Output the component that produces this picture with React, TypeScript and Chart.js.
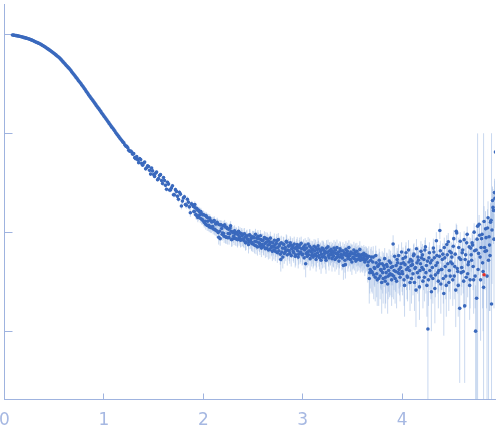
import { useEffect, useRef } from "react";
import Chart from "chart.js/auto";

// scattering vector q (nm^-1), first frame
const qValues = [
  0.08, 0.1, 0.12, 0.14, 0.16, 0.18, 0.2, 0.22, 0.24, 0.26,
  0.28, 0.3, 0.32, 0.34, 0.36, 0.38, 0.4, 0.42, 0.44, 0.46,
  0.48, 0.5, 0.52, 0.54, 0.56, 0.58, 0.6, 0.62, 0.64, 0.66,
  0.68, 0.7, 0.72, 0.74, 0.76, 0.78, 0.8, 0.82, 0.84, 0.86,
  0.88, 0.9, 0.92, 0.94, 0.96, 0.98, 1.0, 1.02, 1.04, 1.06,
  1.08, 1.1, 1.12, 1.14, 1.16, 1.18, 1.2, 1.22, 1.24, 1.26,
  1.28, 1.3, 1.32, 1.34, 1.36, 1.38, 1.4, 1.42, 1.44, 1.46,
  1.48, 1.5, 1.52, 1.54, 1.56, 1.58, 1.6, 1.62, 1.64, 1.66,
  1.68, 1.7, 1.72, 1.74, 1.76, 1.78, 1.8, 1.82, 1.84, 1.86, 1.88,
  1.9, 1.91, 1.92, 1.93, 1.94, 1.95, 1.96, 1.97, 1.98, 1.99,
  2.0, 2.01, 2.02, 2.03, 2.04, 2.05, 2.06, 2.07, 2.08, 2.09,
  2.1, 2.11, 2.12, 2.13, 2.14, 2.15, 2.16, 2.17, 2.18, 2.19,
  2.2, 2.21, 2.22, 2.23, 2.24, 2.25, 2.26, 2.27, 2.28, 2.29,
  2.3, 2.31, 2.32, 2.33, 2.34, 2.35, 2.36, 2.37, 2.38, 2.39,
  2.4, 2.41, 2.42, 2.43, 2.44, 2.45, 2.46, 2.47, 2.48, 2.49,
  2.5, 2.51, 2.52, 2.53, 2.54, 2.55, 2.56, 2.57, 2.58, 2.59,
  2.6, 2.61, 2.62, 2.63, 2.64, 2.65, 2.66, 2.67, 2.68, 2.69,
  2.7, 2.71, 2.72, 2.73, 2.74, 2.75, 2.76, 2.77, 2.78, 2.79,
  2.8, 2.81, 2.82, 2.83, 2.84, 2.85, 2.86, 2.87, 2.88, 2.89,
  2.9, 2.91, 2.92, 2.93, 2.94, 2.95, 2.96, 2.97, 2.98, 2.99,
  3.0, 3.01, 3.02, 3.03, 3.04, 3.05, 3.06, 3.07, 3.08, 3.09,
  3.1, 3.11, 3.12, 3.13, 3.14, 3.15, 3.16, 3.17, 3.18, 3.19,
  3.2, 3.21, 3.22, 3.23, 3.24, 3.25, 3.26, 3.27, 3.28, 3.29,
  3.3, 3.31, 3.32, 3.33, 3.34, 3.35, 3.36, 3.37, 3.38, 3.39,
  3.4, 3.41, 3.42, 3.43, 3.44, 3.45, 3.46, 3.47, 3.48, 3.49,
  3.5, 3.51, 3.52, 3.53, 3.54, 3.55, 3.56, 3.57, 3.58, 3.59,
  3.6, 3.61, 3.62, 3.63, 3.64, 3.65, 3.66, 3.67, 3.68, 3.69,
  3.7, 3.71, 3.72, 3.73, 3.74, 3.75, 3.76, 3.77, 3.78, 3.79,
  3.8, 3.81, 3.82, 3.83, 3.84, 3.85, 3.86, 3.87, 3.88, 3.89,
  3.9, 3.91, 3.92, 3.93, 3.94, 3.95, 3.96, 3.97, 3.98, 3.99,
  4.0, 4.01, 4.02, 4.03, 4.04, 4.05, 4.06, 4.07, 4.08, 4.09,
  4.1, 4.11, 4.12, 4.13, 4.14, 4.15, 4.16, 4.17, 4.18, 4.19,
  4.2, 4.21, 4.22, 4.23, 4.24, 4.25, 4.26, 4.27, 4.28, 4.29,
  4.3, 4.31, 4.32, 4.33, 4.34, 4.35, 4.36, 4.37, 4.38, 4.39,
  4.4, 4.41, 4.42, 4.43, 4.44, 4.45, 4.46, 4.47, 4.48, 4.49,
  4.5, 4.51, 4.52, 4.53, 4.54, 4.55, 4.56, 4.57, 4.58, 4.59,
  4.6, 4.61, 4.62, 4.63, 4.64, 4.65, 4.66, 4.67, 4.68, 4.69,
  4.7, 4.71, 4.72, 4.73, 4.74, 4.75, 4.76, 4.77, 4.78, 4.79,
  4.8, 4.81, 4.82, 4.83, 4.84, 4.85, 4.86, 4.87, 4.88, 4.89,
  4.9, 4.91, 4.92, 4.93, 4.94,
];

// intensity, arbitrary units (axis is unlabelled)
const intensity = [
  982, 975, 966, 957, 946, 935, 923, 912, 899, 885,
  867, 849, 830, 813, 796, 774, 752, 729, 706, 684,
  661, 637, 614, 592, 567, 538, 512, 486, 462, 439,
  413, 389, 366, 345, 325, 305, 286, 267, 250, 234,
  220, 206, 193, 181, 170, 159, 149, 140, 131, 123,
  115, 108, 101, 95.1, 89.3, 84.1, 80.1, 74.0, 71.3, 65.7,
  64.3, 62.1, 55.3, 54.0, 55.3, 49.5, 49.7, 43.6, 46.9, 42.1,
  44.5, 38.2, 39.4, 33.9, 37.3, 33.2, 35.6, 29.7, 31.9, 26.7,
  28.0, 23.9, 26.9, 23.0, 25.3, 18.4, 22.2, 19.0, 21.5, 18.0, 19.3,
  18.2, 16.2, 17.6, 14.8, 16.8, 14.5, 16.2, 13.8, 15.5, 13.3,
  15.1, 12.5, 12.9, 14.6, 11.7, 13.9, 11.3, 13.2, 11.1, 12.9,
  10.8, 13.1, 10.5, 12.2, 12.6, 9.9, 11.9, 8.6, 11.8, 9.5,
  11.6, 9.1, 11.3, 8.9, 10.9, 9.7, 8.8, 11.0, 10.2, 8.5,
  10.1, 8.7, 9.6, 9.9, 8.5, 9.4, 8.6, 9.8, 8.4, 9.2,
  9.5, 8.2, 8.9, 7.9, 9.2, 8.4, 8.0, 9.3, 8.6, 7.7,
  7.6, 8.9, 8.1, 7.3, 8.7, 9.1, 7.8, 7.2, 8.4, 7.5,
  8.3, 7.1, 7.7, 8.6, 6.9, 7.4, 8.1, 6.7, 7.9, 7.2,
  7.8, 6.6, 7.4, 6.9, 8.2, 7.0, 6.5, 7.6, 5.3, 6.3,
  5.6, 7.5, 6.8, 6.4, 7.9, 6.6, 7.2, 6.1, 7.4, 6.8,
  7.3, 6.2, 6.9, 5.9, 7.1, 6.5, 6.0, 7.4, 6.3, 6.8,
  6.0, 7.1, 6.6, 4.8, 6.9, 6.3, 5.9, 7.2, 6.4, 5.8,
  6.7, 5.8, 6.5, 7.0, 5.7, 6.2, 6.8, 5.5, 6.4, 6.0,
  5.6, 6.6, 6.1, 5.5, 6.9, 6.3, 5.8, 6.5, 5.9, 6.2,
  6.4, 5.7, 6.2, 6.6, 5.5, 6.0, 6.3, 5.6, 6.5, 5.9,
  5.5, 4.6, 6.2, 4.7, 5.8, 6.4, 5.6, 6.0, 5.3, 6.1,
  6.1, 5.6, 5.4, 6.3, 5.8, 5.3, 6.0, 5.7, 5.2, 5.9,
  5.9, 5.4, 5.7, 5.2, 5.8, 5.5, 5.0, 3.4, 4.2, 5.6,
  3.9, 5.6, 4.4, 3.5, 4.9, 3.3, 4.6, 5.2, 3.6, 4.1,
  4.8, 3.4, 4.3, 3.2, 3.9, 4.5, 3.6, 5.1, 3.8, 4.4,
  3.7, 7.6, 4.1, 3.4, 4.6, 5.3, 3.9, 4.2, 3.5, 4.8,
  4.0, 5.4, 3.3, 4.7, 6.2, 3.6, 4.4, 5.0, 3.1, 4.6,
  5.1, 3.8, 6.0, 4.3, 2.6, 4.9, 5.6, 3.5, 4.1, 6.4,
  4.4, 3.2, 5.3, 6.6, 3.9, 2.9, 1.05, 5.5, 4.1, 3.6,
  5.2, 3.4, 6.3, 2.7, 4.6, 5.8, 3.9, 4.1, 10.4, 3.0,
  4.2, 6.0, 2.4, 5.5, 3.6, 7.5, 4.8, 3.1, 6.4, 5.0,
  5.6, 3.3, 8.6, 4.5, 2.6, 9.8, 4.0, 7.0, 1.7, 5.3,
  4.4, 6.6, 3.2, 1.8, 5.9, 7.8, 3.8, 5.0, 2.9, 6.9,
  5.2, 7.4, 3.3, 6.5, 1.0, 2.15, 11.5, 6.1, 9.3, 3.3,
  8.6, 4.9, 2.77, 7.0, 10.8, 6.5, 11.0, 5.2, 7.4, 12.6,
  1.88, 20.9, 16.6, 25.1, 64.6,
];

// standard errors of the intensity
const sigma = [
  6.0, 5.9, 5.8, 5.7, 5.6, 5.5, 5.4, 5.3, 5.2, 5.1,
  5.0, 4.9, 4.8, 4.7, 4.6, 4.5, 4.4, 4.3, 4.2, 4.1,
  4.0, 3.9, 3.8, 3.7, 3.6, 3.5, 3.4, 3.3, 3.2, 3.1,
  3.0, 2.9, 2.8, 2.7, 2.6, 2.6, 2.5, 2.5, 2.4, 2.4,
  2.3, 2.3, 2.2, 2.2, 2.1, 2.1, 2.0, 2.0, 2.0, 1.9,
  1.9, 1.9, 1.8, 1.8, 1.8, 1.8, 1.7, 1.7, 1.7, 1.7,
  1.6, 1.6, 1.6, 1.6, 1.6, 1.5, 1.5, 1.5, 1.5, 1.5,
  1.5, 1.5, 1.5, 1.5, 1.4, 1.4, 1.4, 1.4, 1.4, 1.4,
  1.4, 1.4, 1.4, 1.4, 1.4, 1.4, 1.4, 1.4, 1.4, 1.4, 1.4,
  1.5, 1.5, 1.4, 1.5, 1.4, 1.4, 1.5, 1.4, 1.4, 1.4,
  1.4, 1.4, 1.4, 1.3, 1.4, 1.4, 1.3, 1.4, 1.3, 1.4,
  1.3, 1.4, 1.3, 1.4, 1.4, 1.3, 1.4, 1.3, 1.3, 1.3,
  1.4, 1.3, 1.4, 1.3, 1.4, 1.3, 1.3, 1.4, 1.3, 1.3,
  1.4, 1.3, 1.3, 1.4, 1.3, 1.3, 1.3, 1.4, 1.3, 1.3,
  1.4, 1.3, 1.3, 1.3, 1.4, 1.3, 1.3, 1.4, 1.3, 1.3,
  1.3, 1.4, 1.3, 1.3, 1.4, 1.4, 1.3, 1.3, 1.4, 1.3,
  1.4, 1.3, 1.3, 1.4, 1.3, 1.3, 1.4, 1.3, 1.3, 1.3,
  1.4, 1.3, 1.3, 1.3, 1.4, 1.3, 1.3, 1.4, 1.3, 1.3,
  1.3, 1.4, 1.3, 1.3, 1.4, 1.3, 1.3, 1.3, 1.4, 1.3,
  1.4, 1.3, 1.3, 1.3, 1.4, 1.3, 1.3, 1.4, 1.3, 1.3,
  1.3, 1.4, 1.3, 1.3, 1.4, 1.3, 1.3, 1.4, 1.3, 1.3,
  1.4, 1.3, 1.3, 1.4, 1.3, 1.3, 1.4, 1.3, 1.3, 1.3,
  1.3, 1.4, 1.3, 1.3, 1.4, 1.3, 1.3, 1.4, 1.3, 1.3,
  1.4, 1.3, 1.3, 1.4, 1.3, 1.3, 1.4, 1.3, 1.4, 1.3,
  1.3, 1.3, 1.4, 1.3, 1.3, 1.4, 1.3, 1.4, 1.3, 1.4,
  1.4, 1.3, 1.3, 1.4, 1.3, 1.3, 1.4, 1.3, 1.3, 1.4,
  1.3, 1.3, 1.4, 1.3, 1.3, 1.4, 1.5, 1.5, 1.5, 1.5,
  1.5, 1.6, 1.5, 1.5, 1.6, 1.5, 1.5, 1.6, 1.5, 1.5,
  1.6, 1.5, 1.5, 1.5, 1.5, 1.6, 1.5, 1.6, 1.5, 1.5,
  1.5, 1.7, 1.5, 1.5, 1.6, 1.6, 1.5, 1.5, 1.5, 1.6,
  1.5, 1.6, 1.5, 1.6, 1.7, 1.5, 1.5, 1.6, 1.5, 1.6,
  1.6, 1.5, 1.7, 1.5, 1.5, 1.6, 1.6, 1.5, 1.5, 1.7,
  1.5, 1.5, 1.6, 1.7, 1.5, 1.5, 1.5, 1.6, 1.5, 1.5,
  1.6, 1.5, 1.7, 1.5, 1.6, 1.6, 1.5, 1.6, 1.9, 1.5,
  1.6, 1.7, 1.5, 1.6, 1.5, 1.8, 1.6, 1.5, 1.7, 1.6,
  1.6, 1.5, 1.9, 1.6, 1.5, 2.0, 1.6, 1.8, 1.4, 1.6,
  1.6, 1.8, 1.5, 1.5, 1.7, 1.9, 1.6, 1.7, 1.6, 1.8,
  1.8, 2.0, 1.8, 2.1, 1.9, 2.2, 88, 2.4, 2.6, 2.5,
  3.5, 3.2, 97, 4.0, 5.5, 4.8, 6.0, 5.2, 5.8, 7.0,
  98, 8.0, 9.0, 9.5, 12,
];

// second, interleaved frame
const qExtra = [
  0.09, 0.11, 0.13, 0.15, 0.17, 0.19, 0.21, 0.23, 0.25, 0.27,
  0.29, 0.31, 0.33, 0.35, 0.37, 0.39, 0.41, 0.43, 0.45, 0.47,
  0.49, 0.51, 0.53, 0.55, 0.57, 0.59, 0.61, 0.63, 0.65, 0.67,
  0.69, 0.71, 0.73, 0.75, 0.77, 0.79, 0.81, 0.83, 0.85, 0.87,
  0.89, 0.91, 0.93, 0.95, 0.97, 0.99, 1.01, 1.03, 1.05, 1.07,
  1.09, 1.11, 1.13, 1.15, 1.17, 1.19, 1.21, 1.23, 1.25, 1.27,
  1.29, 1.31, 1.33, 1.35, 1.37, 1.39, 1.41, 1.43, 1.45, 1.47,
  1.49, 1.51, 1.53, 1.55, 1.57, 1.59, 1.61, 1.63, 1.65, 1.67,
  1.69, 1.71, 1.73, 1.75, 1.77, 1.79, 1.81, 1.83, 1.85, 1.87, 1.89,
  1.905, 1.915, 1.925, 1.935, 1.945, 1.955, 1.965, 1.975, 1.985, 1.995,
  2.005, 2.015, 2.025, 2.035, 2.045, 2.055, 2.065, 2.075, 2.085, 2.095,
  2.105, 2.115, 2.125, 2.135, 2.145, 2.155, 2.165, 2.175, 2.185, 2.195,
  2.205, 2.215, 2.225, 2.235, 2.245, 2.255, 2.265, 2.275, 2.285, 2.295,
  2.305, 2.315, 2.325, 2.335, 2.345, 2.355, 2.365, 2.375, 2.385, 2.395,
  2.405, 2.415, 2.425, 2.435, 2.445, 2.455, 2.465, 2.475, 2.485, 2.495,
  2.505, 2.515, 2.525, 2.535, 2.545, 2.555, 2.565, 2.575, 2.585, 2.595,
  2.605, 2.615, 2.625, 2.635, 2.645, 2.655, 2.665, 2.675, 2.685, 2.695,
  2.705, 2.715, 2.725, 2.735, 2.745, 2.755, 2.765, 2.775, 2.785, 2.795,
  2.805, 2.815, 2.825, 2.835, 2.845, 2.855, 2.865, 2.875, 2.885, 2.895,
  2.905, 2.915, 2.925, 2.935, 2.945, 2.955, 2.965, 2.975, 2.985, 2.995,
  3.005, 3.015, 3.025, 3.035, 3.045, 3.055, 3.065, 3.075, 3.085, 3.095,
  3.105, 3.115, 3.125, 3.135, 3.145, 3.155, 3.165, 3.175, 3.185, 3.195,
  3.205, 3.215, 3.225, 3.235, 3.245, 3.255, 3.265, 3.275, 3.285, 3.295,
  3.305, 3.315, 3.325, 3.335, 3.345, 3.355, 3.365, 3.375, 3.385, 3.395,
  3.405, 3.415, 3.425, 3.435, 3.445, 3.455, 3.465, 3.475, 3.485, 3.495,
  3.505, 3.515, 3.525, 3.535, 3.545, 3.555, 3.565, 3.575, 3.585, 3.595,
  3.605, 3.615, 3.625, 3.635, 3.645, 3.655, 3.665, 3.675, 3.685, 3.695,
  3.705, 3.715, 3.725, 3.735, 3.745, 3.755, 3.765, 3.775, 3.785, 3.795,
  3.805, 3.815, 3.825, 3.835, 3.845, 3.855, 3.865, 3.875, 3.885, 3.895,
  3.905, 3.915, 3.925, 3.935, 3.945, 3.955, 3.965, 3.975, 3.985, 3.995,
  4.005, 4.015, 4.025, 4.035, 4.045, 4.055, 4.065, 4.075, 4.085, 4.095,
  4.105, 4.115, 4.125, 4.135, 4.145, 4.155, 4.165, 4.175, 4.185, 4.195,
  4.205, 4.215, 4.225, 4.235, 4.245, 4.255, 4.265, 4.275, 4.285, 4.295,
  4.305, 4.315, 4.325, 4.335, 4.345, 4.355, 4.365, 4.375, 4.385, 4.395,
  4.405, 4.415, 4.425, 4.435, 4.445, 4.455, 4.465, 4.475, 4.485, 4.495,
  4.505, 4.515, 4.525, 4.535, 4.545, 4.555, 4.565, 4.575, 4.585, 4.595,
  4.605, 4.615, 4.625, 4.635, 4.645, 4.655, 4.665, 4.675, 4.685, 4.695,
  4.705, 4.715, 4.725, 4.735, 4.745, 4.755, 4.765, 4.775, 4.785, 4.795,
  4.805, 4.815, 4.825, 4.835, 4.845, 4.855, 4.865, 4.875, 4.885, 4.895,
  4.905, 4.915, 4.925, 4.935,
];

const intensityExtra = [
  979, 971, 962, 952, 941, 929, 918, 906, 892, 876,
  858, 840, 822, 805, 785, 763, 741, 718, 695, 673,
  649, 626, 603, 580, 553, 525, 499, 474, 451, 426,
  401, 378, 356, 335, 315, 296, 277, 259, 242, 227,
  213, 200, 187, 176, 165, 154, 145, 136, 127, 119,
  112, 105, 98.0, 92.2, 86.7, 81.6, 76.2, 73.5, 67.4, 66.0,
  61.3, 56.6, 57.9, 50.4, 54.1, 47.4, 51.0, 44.7, 46.0, 38.6,
  41.6, 36.6, 40.5, 34.8, 38.1, 31.0, 33.3, 27.1, 30.6, 26.7,
  29.4, 23.9, 25.8, 21.5, 24.2, 20.6, 22.8, 18.7, 20.1, 15.7, 19.0,
  16.2, 19.0, 15.1, 17.3, 14.1, 16.6, 15.0, 16.2, 13.5, 15.0,
  12.9, 14.8, 12.0, 14.2, 12.9, 11.7, 13.9, 11.3, 12.7, 11.4,
  12.8, 10.7, 12.1, 10.3, 12.2, 8.9, 10.2, 11.9, 10.9, 9.8,
  9.7, 11.9, 9.0, 11.2, 8.8, 10.7, 9.6, 11.6, 8.4, 9.9,
  9.1, 10.3, 8.6, 9.7, 8.4, 10.2, 9.0, 8.3, 9.6, 8.5,
  8.4, 9.6, 7.8, 9.1, 8.5, 7.5, 9.4, 8.1, 7.9, 9.0,
  8.8, 7.4, 9.5, 8.0, 7.1, 8.6, 7.7, 9.2, 6.9, 8.2,
  7.2, 8.8, 6.8, 7.9, 8.5, 6.6, 7.5, 8.7, 7.0, 6.4,
  7.1, 8.3, 6.4, 7.7, 6.2, 8.4, 7.3, 6.0, 7.8, 6.9,
  7.6, 6.1, 7.0, 8.1, 5.9, 7.3, 6.5, 7.8, 5.8, 6.9,
  6.4, 7.6, 5.7, 6.8, 7.5, 5.6, 7.0, 6.2, 7.7, 5.9,
  6.8, 5.5, 7.4, 6.1, 5.7, 7.6, 6.5, 5.4, 6.9, 6.2,
  5.6, 7.2, 6.0, 5.3, 6.7, 7.3, 5.8, 6.6, 5.2, 6.9,
  6.8, 5.7, 6.4, 5.2, 6.2, 7.1, 5.5, 6.0, 6.7, 5.4,
  5.8, 6.9, 5.3, 6.1, 7.0, 5.7, 5.1, 6.8, 6.0, 5.5,
  6.5, 5.9, 5.2, 6.7, 6.1, 5.4, 7.0, 5.8, 6.3, 5.0,
  5.5, 6.6, 6.0, 5.1, 6.4, 5.9, 5.4, 6.7, 5.6, 5.3,
  5.3, 6.1, 5.0, 5.9, 5.4, 4.6, 5.7, 3.9, 5.2, 4.0,
  5.0, 3.7, 4.3, 5.8, 3.8, 4.5, 3.4, 4.8, 4.2, 3.1,
  3.9, 4.6, 5.4, 3.5, 4.7, 3.0, 4.1, 3.7, 4.9, 3.3,
  4.5, 3.6, 5.7, 4.0, 3.2, 4.9, 5.8, 3.8, 4.4, 6.3,
  3.8, 4.9, 2.9, 5.6, 4.2, 3.5, 6.6, 4.1, 5.3, 3.4,
  4.7, 5.8, 3.1, 4.4, 6.8, 3.9, 5.2, 2.8, 4.8, 5.5,
  5.9, 4.2, 3.5, 7.1, 4.6, 5.1, 3.3, 6.2, 4.9, 2.5,
  4.4, 6.9, 5.5, 3.7, 8.2, 4.9, 3.2, 5.7, 6.5, 4.2,
  5.3, 3.4, 7.0, 4.5, 2.9, 5.9, 8.0, 4.1, 3.6, 6.2,
  4.8, 7.2, 3.6, 6.0, 10.2, 4.3, 2.9, 5.5, 8.1, 3.9,
  6.2, 4.0, 8.4, 5.3, 3.5, 9.5, 4.7, 7.1, 3.3, 5.9,
  7.8, 4.5, 10.0, 3.6, 6.6, 8.5, 4.2, 12.0, 5.6, 7.0,
  9.5, 4.0, 12.8, 6.4, 8.8, 3.6, 14.0, 9.0, 5.8, 13.2,
  10.5, 17.8, 8.5, 22.0,
];

const sigmaExtra = [
  6.0, 5.9, 5.8, 5.7, 5.6, 5.5, 5.4, 5.3, 5.2, 5.1,
  5.0, 4.9, 4.8, 4.7, 4.6, 4.5, 4.4, 4.3, 4.2, 4.1,
  4.0, 3.9, 3.8, 3.7, 3.6, 3.5, 3.4, 3.3, 3.2, 3.1,
  3.0, 2.9, 2.8, 2.7, 2.6, 2.6, 2.5, 2.5, 2.4, 2.4,
  2.3, 2.3, 2.2, 2.2, 2.1, 2.1, 2.0, 2.0, 2.0, 1.9,
  1.9, 1.9, 1.8, 1.8, 1.8, 1.8, 1.7, 1.7, 1.7, 1.7,
  1.6, 1.6, 1.6, 1.6, 1.6, 1.5, 1.5, 1.5, 1.5, 1.5,
  1.5, 1.5, 1.5, 1.5, 1.4, 1.4, 1.4, 1.4, 1.4, 1.4,
  1.4, 1.4, 1.4, 1.4, 1.4, 1.4, 1.4, 1.4, 1.4, 1.4, 1.4,
  1.4, 1.5, 1.4, 1.4, 1.5, 1.4, 1.4, 1.4, 1.5, 1.4,
  1.4, 1.3, 1.4, 1.4, 1.3, 1.4, 1.3, 1.4, 1.4, 1.3,
  1.4, 1.3, 1.3, 1.4, 1.3, 1.4, 1.3, 1.3, 1.4, 1.3,
  1.3, 1.4, 1.3, 1.4, 1.3, 1.3, 1.4, 1.3, 1.3, 1.4,
  1.3, 1.4, 1.3, 1.3, 1.4, 1.3, 1.3, 1.3, 1.4, 1.3,
  1.3, 1.4, 1.3, 1.3, 1.3, 1.4, 1.3, 1.3, 1.4, 1.3,
  1.4, 1.3, 1.3, 1.4, 1.3, 1.3, 1.4, 1.3, 1.3, 1.4,
  1.3, 1.4, 1.3, 1.3, 1.4, 1.3, 1.3, 1.4, 1.3, 1.3,
  1.3, 1.4, 1.3, 1.3, 1.3, 1.4, 1.3, 1.3, 1.4, 1.3,
  1.4, 1.3, 1.3, 1.4, 1.3, 1.3, 1.4, 1.3, 1.3, 1.3,
  1.3, 1.4, 1.3, 1.3, 1.4, 1.3, 1.3, 1.4, 1.3, 1.3,
  1.4, 1.3, 1.3, 1.4, 1.3, 1.3, 1.4, 1.3, 1.3, 1.4,
  1.3, 1.3, 1.4, 1.3, 1.3, 1.4, 1.3, 1.3, 1.4, 1.3,
  1.4, 1.3, 1.3, 1.4, 1.3, 1.3, 1.4, 1.3, 1.3, 1.4,
  1.3, 1.4, 1.3, 1.3, 1.4, 1.3, 1.4, 1.3, 1.3, 1.4,
  1.4, 1.3, 1.3, 1.4, 1.3, 1.4, 1.3, 1.3, 1.4, 1.3,
  1.3, 1.4, 1.3, 1.3, 1.4, 1.3, 1.3, 1.4, 1.3, 1.3,
  1.4, 1.3, 1.4, 1.3, 1.4, 1.5, 1.5, 1.5, 1.6, 1.5,
  1.5, 1.6, 1.5, 1.5, 1.6, 1.5, 1.6, 1.5, 1.5, 1.6,
  1.5, 1.6, 1.5, 1.6, 1.5, 1.5, 1.6, 1.5, 1.6, 1.5,
  1.6, 1.5, 1.6, 1.5, 1.5, 1.6, 1.7, 1.5, 1.6, 1.6,
  1.5, 1.6, 1.5, 1.7, 1.6, 1.5, 1.7, 1.5, 1.6, 1.5,
  1.6, 1.7, 1.5, 1.6, 1.7, 1.5, 1.6, 1.5, 1.6, 1.6,
  1.7, 1.6, 1.5, 1.7, 1.6, 1.6, 1.5, 1.7, 1.6, 1.5,
  1.6, 1.7, 1.6, 1.5, 1.8, 1.6, 1.5, 1.7, 1.7, 1.6,
  1.6, 1.5, 1.8, 1.6, 1.5, 1.7, 1.8, 1.6, 1.5, 1.7,
  1.6, 1.8, 1.5, 1.7, 2.0, 1.6, 1.5, 1.7, 1.9, 1.6,
  1.7, 1.6, 1.8, 1.6, 1.7, 1.9, 1.7, 1.8, 1.6, 1.9,
  2.0, 1.9, 2.3, 1.9, 2.2, 2.5, 2.1, 2.9, 2.4, 2.7,
  3.6, 3.0, 5.5, 3.8, 4.6, 3.4, 6.5, 5.0, 4.2, 7.0,
  7.5, 9.5, 6.8, 11,
];

// point flagged in red
const flaggedQ = [4.825];
const flaggedI = [3.72];

const xTickValues = [0, 1, 2, 3, 4];
const yTickValues = [1, 10, 100, 1000];

const AXIS_COLOR = "#9fb3df";
const LABEL_COLOR = "#a6b8e2";
const POINT_COLOR = "#3a69bd";
const ERROR_COLOR = "rgba(150,180,226,0.5)";

// tick marks drawn inside the plot area, as in the reference
const inwardTicks = {
  id: "inwardTicks",
  beforeDatasetsDraw(chart: Chart) {
    const { ctx, chartArea, scales } = chart;
    ctx.save();
    ctx.strokeStyle = AXIS_COLOR;
    ctx.lineWidth = 1;
    ctx.beginPath();
    scales.x.ticks.forEach((t) => {
      const px = Math.round(scales.x.getPixelForValue(t.value) - 0.5) + 0.5;
      ctx.moveTo(px, chartArea.bottom);
      ctx.lineTo(px, chartArea.bottom - 6);
    });
    scales.y.ticks.forEach((t) => {
      const py = Math.round(scales.y.getPixelForValue(t.value) - 0.5) + 0.5;
      ctx.moveTo(chartArea.left, py);
      ctx.lineTo(chartArea.left + 8, py);
    });
    ctx.stroke();
    ctx.restore();
  },
};

export default function App() {
  const canvasRef = useRef<HTMLCanvasElement | null>(null);

  useEffect(() => {
    if (!canvasRef.current) return;

    const allQ = qValues.concat(qExtra);
    const allI = intensity.concat(intensityExtra);
    const allSigma = sigma.concat(sigmaExtra);

    const points = allQ.map((q, i) => ({ x: q, y: allI[i] }));
    const errorBars: { x: number; y: number | null }[] = [];
    allQ.forEach((q, i) => {
      errorBars.push({ x: q, y: Math.max(allI[i] - allSigma[i], 0.01) });
      errorBars.push({ x: q, y: allI[i] + allSigma[i] });
      errorBars.push({ x: q, y: null });
    });

    const chart = new Chart(canvasRef.current, {
      type: "scatter",
      data: {
        datasets: [
          {
            label: "flagged",
            data: flaggedQ.map((q, i) => ({ x: q, y: flaggedI[i] })),
            pointRadius: 1.8,
            pointBackgroundColor: "#e3302a",
            pointBorderWidth: 0,
            order: 0,
          },
          {
            label: "I(q)",
            data: points,
            pointRadius: 1.8,
            pointBackgroundColor: POINT_COLOR,
            pointBorderWidth: 0,
            order: 1,
          },
          {
            type: "line",
            label: "error",
            data: errorBars,
            borderColor: ERROR_COLOR,
            borderWidth: 1,
            pointRadius: 0,
            spanGaps: false,
            showLine: true,
            order: 2,
          },
        ],
      },
      options: {
        responsive: true,
        maintainAspectRatio: false,
        animation: false,
        events: [],
        layout: { padding: 0 },
        plugins: {
          legend: { display: false },
          tooltip: { enabled: false },
        },
        scales: {
          x: {
            type: "linear",
            min: 0,
            max: 4.935,
            afterBuildTicks: (scale) => {
              scale.ticks = xTickValues.map((v) => ({ value: v }));
            },
            afterFit: (scale) => {
              scale.height = 37.5;
              scale.paddingLeft = 0;
              scale.paddingRight = 0;
            },
            grid: { drawOnChartArea: false, drawTicks: false },
            border: { color: AXIS_COLOR, width: 1 },
            ticks: {
              color: LABEL_COLOR,
              padding: 11,
              autoSkip: false,
              maxRotation: 0,
              font: { family: "'DejaVu Sans', sans-serif", size: 17 },
            },
          },
          y: {
            type: "logarithmic",
            min: 0.204,
            max: 2018,
            afterBuildTicks: (scale) => {
              scale.ticks = yTickValues.map((v) => ({ value: v }));
            },
            afterFit: (scale) => {
              scale.width = 4.5;
            },
            grid: { drawOnChartArea: false, drawTicks: false },
            border: { color: AXIS_COLOR, width: 1 },
            ticks: { display: false },
          },
        },
      },
      plugins: [inwardTicks],
    });

    return () => {
      chart.destroy();
    };
  }, []);

  return (
    <div style={{ position: "absolute", left: 0, top: 0, width: "499px", height: "437px", background: "#fff" }}>
      <canvas ref={canvasRef}></canvas>
    </div>
  );
}
